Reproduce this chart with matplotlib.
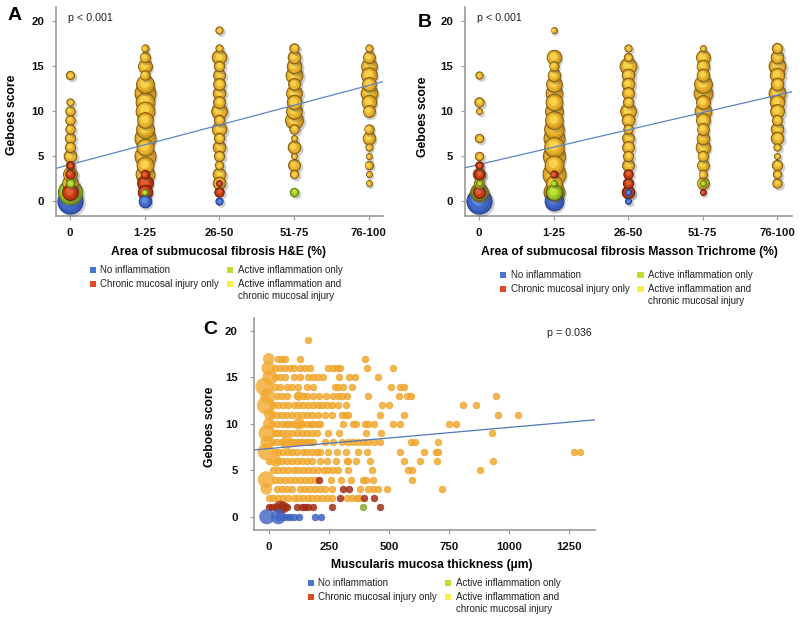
import matplotlib
matplotlib.use("Agg")
import matplotlib.pyplot as plt
import numpy as np
from matplotlib.patches import Rectangle
from matplotlib.transforms import offset_copy

plt.rcParams['font.family'] = ['Liberation Sans', 'DejaVu Sans']

W, H = 800, 622

# ---- panel A and B: patients per Geboes score, one dict per fibrosis category
categories = ["0", "1-25", "26-50", "51-75", "76-100"]

a_yellow = [
    {14: 4, 11: 3, 10: 5, 9: 5, 8: 5, 7: 6, 6: 6, 5: 9, 4: 4, 3: 11, 2: 14},
    {17: 3, 16: 6, 15: 11, 14: 5, 13: 18, 12: 25, 11: 20, 10: 20, 9: 14, 8: 18, 7: 25, 6: 16, 5: 25, 4: 16, 3: 20},
    {19: 3, 17: 3, 16: 12, 15: 6, 14: 8, 13: 8, 12: 9, 11: 8, 10: 14, 9: 6, 8: 12, 7: 6, 6: 9, 5: 6, 4: 4, 3: 9, 2: 9},
    {17: 5, 16: 9, 15: 12, 14: 16, 13: 8, 12: 14, 11: 12, 10: 14, 9: 18, 8: 5, 7: 2, 6: 9, 5: 2, 4: 8, 3: 4},
    {17: 3, 16: 8, 15: 14, 14: 14, 13: 11, 12: 16, 11: 12, 10: 8, 8: 5, 7: 9, 6: 3, 5: 2, 4: 4, 3: 2, 2: 2},
]
a_red = [{4: 3, 3: 5, 1: 14}, {3: 4, 2: 14, 1: 12}, {2: 2, 1: 5}, {}, {}]
a_green = [{2: 4, 1: 33}, {1: 2}, {}, {1: 4}, {}]
a_blue = [{0: 36}, {0: 9}, {0: 3}, {}, {}]

b_yellow = [
    {14: 3, 11: 5, 10: 2, 7: 4, 5: 4, 4: 3, 3: 9, 2: 6, 1: 18},
    {19: 2, 16: 12, 15: 5, 14: 9, 13: 14, 12: 16, 11: 16, 10: 18, 9: 18, 8: 22, 7: 25, 6: 22, 5: 28, 4: 20, 3: 30, 2: 14, 1: 25},
    {17: 3, 16: 4, 15: 16, 14: 9, 13: 9, 12: 8, 11: 6, 10: 14, 9: 9, 8: 5, 7: 8, 6: 8, 5: 6, 4: 8, 1: 9},
    {17: 2, 16: 11, 15: 9, 14: 9, 13: 18, 12: 20, 11: 11, 10: 16, 9: 11, 8: 8, 7: 9, 6: 12, 5: 6, 4: 8, 3: 4, 2: 8},
    {17: 6, 16: 9, 15: 16, 14: 12, 13: 9, 12: 16, 11: 12, 10: 11, 9: 6, 8: 9, 7: 9, 6: 3, 5: 2, 4: 6, 3: 4, 2: 5},
]
b_red = [{4: 3, 3: 6, 1: 8}, {3: 3, 1: 16}, {3: 5, 2: 6, 1: 8}, {1: 2}, {}]
b_green = [{2: 2, 1: 14}, {2: 2, 1: 14}, {}, {2: 2}, {}]
b_blue = [{0: 36}, {0: 20}, {1: 2, 0: 2}, {}, {}]

a_line_ends = [3.67, 13.3]
b_line_ends = [3.73, 12.18]

# ---- panel C: thickness (um) of each sample, per Geboes score
c_yellow = {
    19: [162],
    17: [40, 54, 68, 130, 399],
    16: [26, 47, 68, 89, 103, 130, 151, 172, 248, 266, 283, 297, 410, 516],
    15: [26, 47, 68, 103, 128, 165, 186, 206, 225, 292, 335, 359, 455],
    14: [26, 47, 75, 96, 123, 158, 186, 276, 290, 310, 348, 507, 546, 563],
    13: [33, 54, 75, 116, 144, 158, 183, 211, 238, 266, 290, 304, 324, 414, 542, 574, 590, 945],
    12: [19, 40, 61, 82, 103, 123, 144, 165, 186, 206, 220, 241, 262, 287, 321, 470, 498, 809, 861],
    11: [12, 33, 54, 75, 96, 117, 137, 158, 179, 206, 234, 262, 303, 320, 331, 464, 563, 955, 1038],
    10: [15, 35, 55, 70, 85, 100, 120, 140, 160, 175, 185, 205, 215, 310, 352, 363, 400, 414, 438, 516, 546, 750, 779],
    9: [26, 40, 54, 75, 96, 117, 137, 158, 179, 200, 248, 294, 403, 468, 927],
    8: [12, 33, 54, 68, 89, 103, 117, 130, 144, 158, 172, 186, 234, 269, 304, 331, 352, 373, 393, 414, 438, 464, 590, 608, 703],
    7: [26, 40, 61, 82, 96, 117, 144, 158, 179, 200, 213, 248, 283, 321, 373, 410, 546, 646, 696, 703, 1267, 1295],
    6: [0, 33, 54, 75, 96, 116, 137, 158, 179, 213, 243, 278, 325, 331, 362, 421, 564, 629, 701, 934],
    5: [17, 40, 61, 82, 103, 123, 144, 165, 186, 206, 228, 248, 269, 286, 329, 431, 577, 595, 879],
    4: [26, 47, 68, 89, 110, 130, 151, 172, 193, 258, 299, 341, 393, 403, 432, 596],
    3: [33, 54, 75, 96, 128, 151, 172, 193, 213, 234, 264, 380, 414, 432, 456, 490, 721],
    2: [0, 19, 40, 61, 82, 103, 123, 144, 165, 179, 200, 220, 241, 262, 324, 345, 366, 377],
}
c_red = {
    4: [209],
    3: [308, 334],
    2: [298, 396, 437],
    1: [0, 12, 33, 61, 75, 116, 137, 150, 165, 186, 262, 463],
}
c_green = {1: [392]}
c_blue = {0: [40, 61, 75, 89, 103, 125, 193, 216]}

# the few samples in panel C standing for several patients
c_big_x = [0, -2, 5, -18, -4, 5, -12, 0, -8, 75, -7, -12, -11, -10, 30, 125, 125]
c_big_y = [17, 16, 15, 14, 13, 11, 12, 10, 9, 8, 8, 7, 4, 3, 6, 10, 13]
c_big_n = [3, 4, 5, 7, 5, 3, 7, 3, 6, 4, 4, 6, 6, 3, 3, 3, 2]
c_red_big_x = [47, 61]
c_red_big_y = [1, 1]
c_red_big_n = [4, 3]
c_blue_big_x = [-8, 40]
c_blue_big_y = [0, 0]
c_blue_big_n = [5, 5]

c_ticks = [0, 250, 500, 750, 1000, 1250]
c_line_ends = [7.2, 10.43]

gebo_ticks = [0, 5, 10, 15, 20]
legend_names = ["No inflammation", "Chronic mucosal injury only",
                "Active inflammation only", "Active inflammation and\nchronic mucosal injury"]
legend_colors = ["#4A74D2", "#DE4A26", "#B9E02E", "#F9EE4E"]

# rim, base, mid, light
shades = {
    "yellow": ("#7E5A10", "#D29A1E", "#E9B22E", "#F8D24C"),
    "red": ("#6A1C08", "#B0300F", "#CB3C16", "#DF6232"),
    "green": ("#55760F", "#86AA1E", "#A2C826", "#C2E236"),
    "blue": ("#223E88", "#3659B8", "#4268C8", "#5E8AE2"),
}


def make_axes(box, xlim, ylim, ypad=5.5):
    left, top, right, bottom = box
    ax = plt.axes([left / W, 1 - bottom / H, (right - left) / W, (bottom - top) / H])
    ax.set_xlim(xlim)
    ax.set_ylim(ylim)
    ax.spines["top"].set_visible(False)
    ax.spines["right"].set_visible(False)
    for side in ["left", "bottom"]:
        ax.spines[side].set_color("#9a9a9a")
        ax.spines[side].set_linewidth(1.2)
    ax.set_yticks(gebo_ticks)
    ax.tick_params(color="#9a9a9a", length=3, width=0.8, labelsize=8.2, pad=5.5)
    ax.tick_params(axis="y", pad=ypad)
    ax.set_facecolor("none")
    return ax


def draw_bubbles(ax, yellow, red, green, blue):
    bubbles = []
    for name, series in [("yellow", yellow), ("green", green), ("red", red), ("blue", blue)]:
        for col, counts in enumerate(series):
            for score, n in counts.items():
                bubbles.append((n, col, score, name))
    bubbles.sort(key=lambda b: -b[0])
    z = 3
    for n, col, score, name in bubbles:
        d = 4.2 * np.sqrt(n) * 72 / 100  # diameter in points
        rim, base, mid, light = shades[name]
        shadow = offset_copy(ax.transData, ax.figure, x=1.5, y=-1.5, units="dots")
        ax.scatter(col, score, s=(d + 1) ** 2, color="#555555", alpha=0.28, linewidths=0,
                   transform=shadow, zorder=z, clip_on=False)
        ax.scatter(col, score, s=d ** 2, color=base, edgecolors=rim, linewidths=0.7, zorder=z + 0.1)
        mid_t = offset_copy(ax.transData, ax.figure, x=-0.04 * d, y=0.05 * d, units="points")
        ax.scatter(col, score, s=(0.78 * d) ** 2, color=mid, linewidths=0, transform=mid_t, zorder=z + 0.2)
        light_t = offset_copy(ax.transData, ax.figure, x=-0.06 * d, y=0.1 * d, units="points")
        ax.scatter(col, score, s=(0.5 * d) ** 2, color=light, linewidths=0, transform=light_t, zorder=z + 0.3)
        z += 0.5


def draw_legend(x0, y0):
    size = 6.3
    spots = [(0, 0), (0, 14), (137.3, 0), (137.3, 14)]
    for name, color, (dx, dy) in zip(legend_names, legend_colors, spots):
        x, y = x0 + dx, y0 + dy
        fig.patches.append(Rectangle((x / W - size / 2 / W, 1 - y / H - size / 2 / H), size / W, size / H,
                                     transform=fig.transFigure, facecolor=color, edgecolor="none"))
        first, *rest = name.split("\n")
        fig.text((x + 7.3) / W, 1 - y / H, first, fontsize=7.05, color="#222222", va="center")
        if rest:
            fig.text((x + 7.3) / W, 1 - (y + 11.7) / H, rest[0], fontsize=7.05, color="#222222", va="center")


fig = plt.figure(figsize=(W / 100, H / 100), dpi=100)

# panel A
ax_a = make_axes((56, 7, 383, 216), (-0.1875, 4.19), (-1.63, 21.6))
draw_bubbles(ax_a, a_yellow, a_red, a_green, a_blue)
ax_a.plot(ax_a.get_xlim(), a_line_ends, color="#5B84C4", lw=0.9, zorder=40)
ax_a.set_xticks(range(5), categories)

# panel B
ax_b = make_axes((465, 7, 792, 216), (-0.19, 4.197), (-1.63, 21.6))
draw_bubbles(ax_b, b_yellow, b_red, b_green, b_blue)
ax_b.plot(ax_b.get_xlim(), b_line_ends, color="#5B84C4", lw=0.9, zorder=40)
ax_b.set_xticks(range(5), categories)

# panel C
ax_c = make_axes((254.3, 318, 594.7, 530), (-60, 1355), (-1.43, 21.4), ypad=9)
groups = [(c_yellow, c_big_x, c_big_y, c_big_n, "#F2A92E", "#E89A20", 2),
          (c_red, c_red_big_x, c_red_big_y, c_red_big_n, "#A32C14", "#8E2410", 3),
          (c_green, [], [], [], "#86AE2C", "#78A024", 4),
          (c_blue, c_blue_big_x, c_blue_big_y, c_blue_big_n, "#3D63C2", "#3558B4", 5)]
for rows, big_x, big_y, big_n, color, edge, z in groups:
    xs = [x for score in rows for x in rows[score]]
    ys = [score for score in rows for _ in rows[score]]
    ax_c.scatter(xs, ys, s=(6.8 * 0.72) ** 2, color=color, edgecolors=edge, linewidths=0.4, alpha=0.85, zorder=z)
    if big_x:
        sizes = [(6.8 * 0.72) ** 2 * n for n in big_n]
        ax_c.scatter(big_x, big_y, s=sizes, color=color, linewidths=0, alpha=0.8, zorder=z)
ax_c.plot(ax_c.get_xlim(), c_line_ends, color="#4F78BC", lw=0.9, zorder=10)
ax_c.set_xticks(c_ticks)

for ax in [ax_a, ax_b, ax_c]:
    for lab in ax.get_xticklabels() + ax.get_yticklabels():
        lab.set_fontweight("bold")
        lab.set_color("#111111")

fig.text(11.7 / W, 1 - 115 / H, "Geboes score", rotation=90, fontsize=8.7, fontweight="bold", ha="center", va="center")
fig.text(422.7 / W, 1 - 117 / H, "Geboes score", rotation=90, fontsize=8.7, fontweight="bold", ha="center", va="center")
fig.text(209.5 / W, 1 - 427 / H, "Geboes score", rotation=90, fontsize=8.7, fontweight="bold", ha="center", va="center")

fig.text(218.5 / W, 1 - 252 / H, "Area of submucosal fibrosis H&E (%)", fontsize=8.7, fontweight="bold", ha="center", va="center")
fig.text(629 / W, 1 - 252 / H, "Area of submucosal fibrosis Masson Trichrome (%)", fontsize=8.7, fontweight="bold", ha="center", va="center")
fig.text(432 / W, 1 - 565 / H, "Muscularis mucosa thickness (µm)", fontsize=8.7, fontweight="bold", ha="center", va="center")

fig.text(67.7 / W, 1 - 18 / H, "p < 0.001", fontsize=7.7, color="#222222", va="center")
fig.text(477 / W, 1 - 18 / H, "p < 0.001", fontsize=7.7, color="#222222", va="center")
fig.text(592 / W, 1 - 332.7 / H, "p = 0.036", fontsize=7.7, color="#222222", ha="right", va="center")

fig.text(15 / W, 1 - 16 / H, "A", fontsize=14, fontweight="bold", ha="center", va="center")
fig.text(424.7 / W, 1 - 22.7 / H, "B", fontsize=14, fontweight="bold", ha="center", va="center")
fig.text(210.7 / W, 1 - 330 / H, "C", fontsize=14, fontweight="bold", ha="center", va="center")

draw_legend(93, 270.3)
draw_legend(503.3, 275)
draw_legend(311, 583.3)

fig.savefig("out.png", dpi=100)
